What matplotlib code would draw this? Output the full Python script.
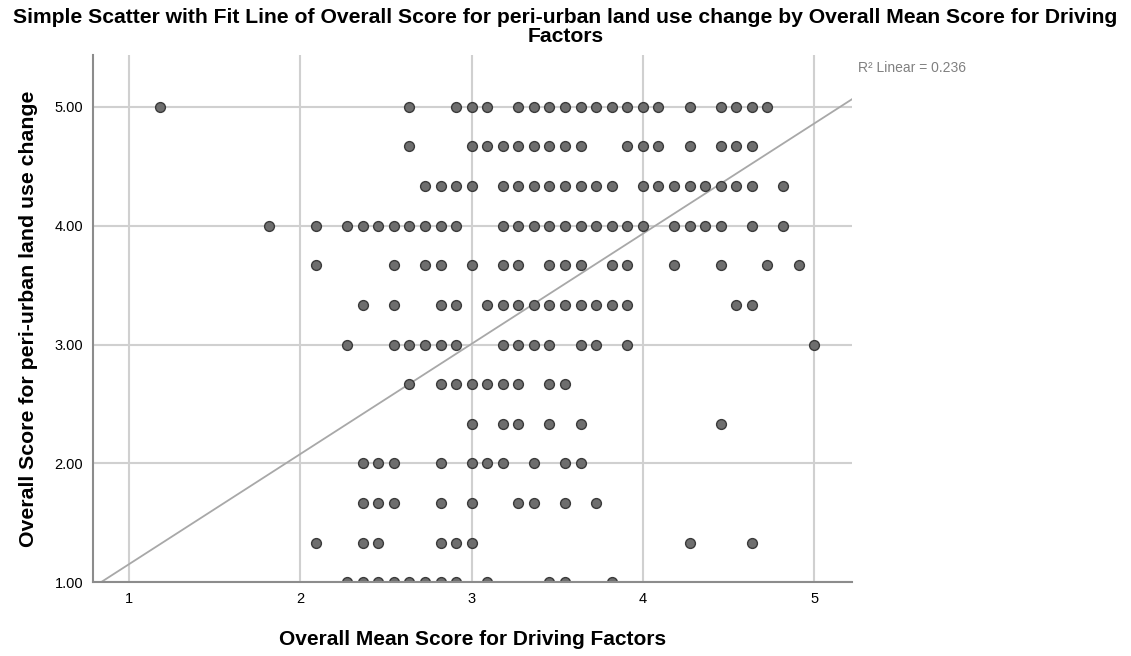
import numpy as np
import matplotlib
matplotlib.use('Agg')
import matplotlib.pyplot as plt

plt.rcParams['font.family'] = ['Liberation Sans', 'DejaVu Sans']

# scores are item means: driving factors over 11 items, land use change over 3 items
n_driving_items = 11
n_landuse_items = 3

# land use sum -> driving factor sums observed at that level
landuse_sums = [15, 14, 13, 12, 11, 10, 9, 8, 7, 6, 5, 4, 3]
driving_sums = [
    [13, 29, 32, 33, 34, 36, 37, 38, 39, 40, 41, 42, 43, 44, 45, 47, 49, 50, 51, 52],
    [29, 33, 34, 35, 36, 37, 38, 39, 40, 43, 44, 45, 47, 49, 50, 51],
    [30, 31, 32, 33, 35, 36, 37, 38, 39, 40, 41, 42, 44, 45, 46, 47, 48, 49, 50, 51, 53],
    [20, 23, 25, 26, 27, 28, 29, 30, 31, 32, 35, 36, 37, 38, 39, 40, 41, 42, 43, 44,
     46, 47, 48, 49, 51, 53],
    [23, 28, 30, 31, 33, 35, 36, 38, 39, 40, 42, 43, 46, 49, 52, 54],
    [26, 28, 31, 32, 34, 35, 36, 37, 38, 39, 40, 41, 42, 43, 50, 51],
    [25, 28, 29, 30, 31, 32, 35, 36, 37, 38, 40, 41, 43, 55],
    [29, 31, 32, 33, 34, 35, 36, 38, 39],
    [33, 35, 36, 38, 40, 49],
    [26, 27, 28, 31, 33, 34, 35, 37, 39, 40],
    [26, 27, 28, 31, 33, 36, 37, 39, 41],
    [23, 26, 27, 31, 32, 33, 47, 51],
    [25, 26, 27, 28, 29, 30, 31, 32, 34, 38, 39, 42],
]

# linear fit as reported
fit_intercept = 0.228
fit_slope = 0.926
r_squared = 0.236

x_ticks = [1, 2, 3, 4, 5]
y_ticks = [1, 2, 3, 4, 5]

xs = []
ys = []
for ls, row in zip(landuse_sums, driving_sums):
    for ds in row:
        xs.append(ds / n_driving_items)
        ys.append(ls / n_landuse_items)
xs = np.array(xs)
ys = np.array(ys)

fig = plt.figure(figsize=(11.31, 6.56), dpi=100)
ax = fig.add_axes([0.0822, 0.1123, 0.6709, 0.8039])

xlim = (0.788, 5.22)
ylim = (1.0, 5.435)
ax.set_xlim(*xlim)
ax.set_ylim(*ylim)

for t in x_ticks:
    ax.axvline(t, color='#d0d0d0', lw=1.5, zorder=1)
for t in y_ticks:
    ax.axhline(t, color='#d0d0d0', lw=1.5, zorder=1)

fx = np.array(xlim)
ax.plot(fx, fit_intercept + fit_slope * fx, color='#a8a8a8', lw=1.3, zorder=2)

ax.scatter(xs, ys, s=50, facecolor='#6e6e6e', edgecolor='#3a3a3a', linewidth=1.0,
           zorder=3, clip_on=True)

ax.set_xticks(x_ticks)
ax.set_xticklabels([str(t) for t in x_ticks])
ax.set_yticks(y_ticks)
ax.set_yticklabels(['%.2f' % t for t in y_ticks])
ax.tick_params(length=0, labelsize=10.5, colors='#000000', pad=7)

for side in ['top', 'right']:
    ax.spines[side].set_visible(False)
for side in ['left', 'bottom']:
    ax.spines[side].set_color('#8c8c8c')
    ax.spines[side].set_linewidth(1.5)
    ax.spines[side].set_zorder(4)

ax.set_xlabel('Overall Mean Score for Driving Factors', fontsize=15, fontweight='bold', labelpad=17)
ax.set_ylabel('Overall Score for peri-urban land use change', fontsize=15.3, fontweight='bold', labelpad=12)

fig.suptitle('Simple Scatter with Fit Line of Overall Score for peri-urban land use change by Overall Mean Score for Driving\nFactors',
             fontsize=15.2, fontweight='bold', y=0.988, linespacing=1.0)

fig.text(858 / 1131, 1 - 68 / 656, 'R\u00b2 Linear = %.3f' % r_squared, fontsize=10, color='#808080', va='center')

fig.savefig('out.png', dpi=100)
